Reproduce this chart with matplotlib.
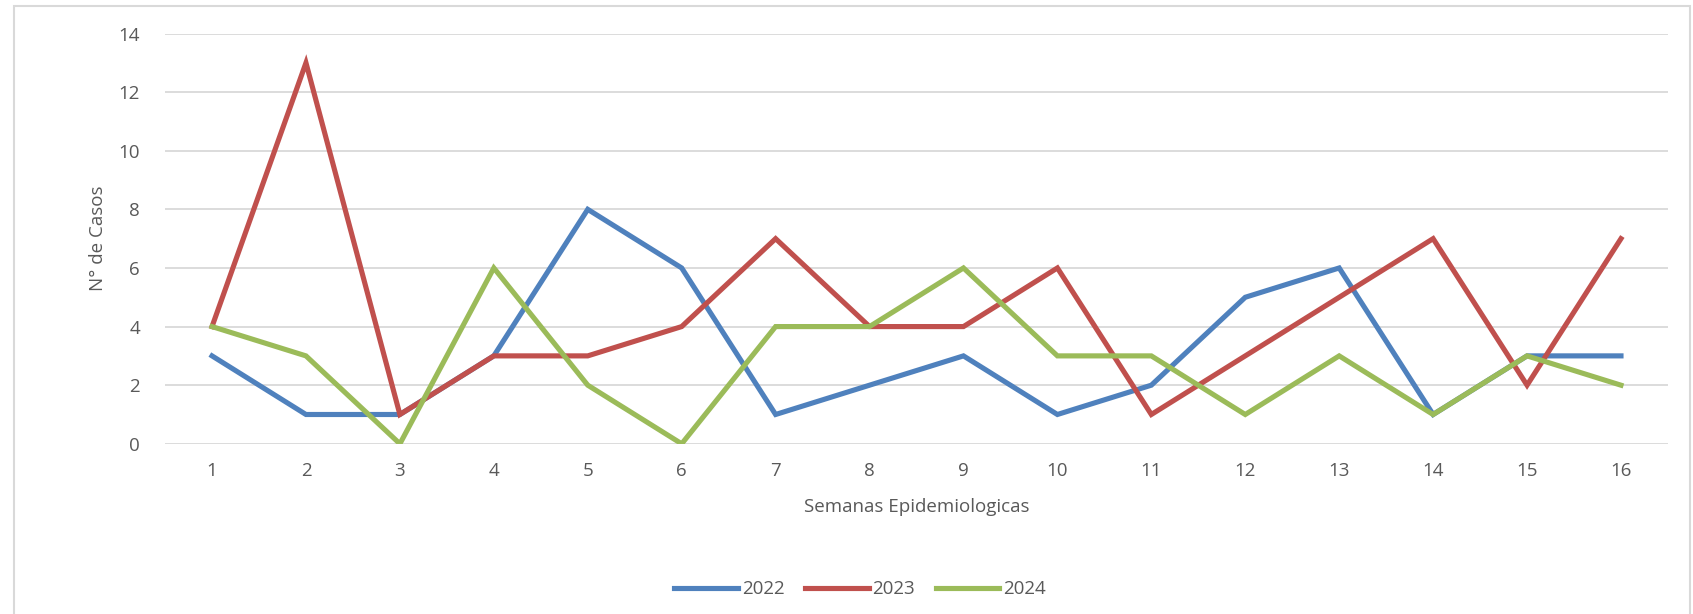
import matplotlib.pyplot as plt
from matplotlib.patches import Rectangle

# ─── DATA ─────────────────────────────────────────────────────────────────────
semanas = list(range(1, 17))
casos_2022 = [3, 1, 1, 3, 8, 6, 1, 2, 3, 1, 2, 5, 6, 1, 3, 3]
casos_2023 = [4, 13, 1, 3, 3, 4, 7, 4, 4, 6, 1, 3, 5, 7, 2, 7]
casos_2024 = [4, 3, 0, 6, 2, 0, 4, 4, 6, 3, 3, 1, 3, 1, 3, 2]
series_labels = ["2022", "2023", "2024"]

COLORS = ["#4F81BD", "#C0504D", "#9BBB59"]
TEXT = "#595959"
GRID = "#D9D9D9"

plt.rcParams["font.family"] = ["Open Sans", "DejaVu Sans"]

fig = plt.figure(figsize=(16.93, 6.14), dpi=100)
ax = fig.add_axes([0.0975, 0.2772, 0.8877, 0.6682])

for vals, lab, col in zip([casos_2022, casos_2023, casos_2024], series_labels, COLORS):
    ax.plot(semanas, vals, color=col, lw=3.7, label=lab, solid_joinstyle="miter")

ax.set_xlim(0.5, 16.5)
ax.set_ylim(0, 14)
ax.set_yticks(range(0, 15, 2))
ax.set_xticks(semanas)
ax.grid(axis="y", color=GRID, lw=1.3)
ax.set_axisbelow(True)
for s in ax.spines.values():
    s.set_visible(False)
ax.tick_params(length=0, colors=TEXT, labelsize=13.5)
ax.tick_params(axis="x", pad=13)
ax.tick_params(axis="y", pad=18)

ax.set_xlabel("Semanas Epidemiologicas", color=TEXT, fontsize=13.5, labelpad=13)
ax.set_ylabel("N° de Casos", color=TEXT, fontsize=13.5, labelpad=8)

fig.legend(loc="center", bbox_to_anchor=(0.508, 0.04), ncol=3, frameon=False,
           fontsize=13.5, labelcolor=TEXT, handlelength=3.4, handletextpad=0.2,
           columnspacing=1.1)

# light chart-area border like the spreadsheet export
fig.patches.append(Rectangle((14 / 1693, -0.05), (1690 - 14) / 1693, 1.05 - 6 / 614,
                             transform=fig.transFigure, fill=False,
                             edgecolor=GRID, lw=1.5))

fig.savefig("out.png", dpi=100)
